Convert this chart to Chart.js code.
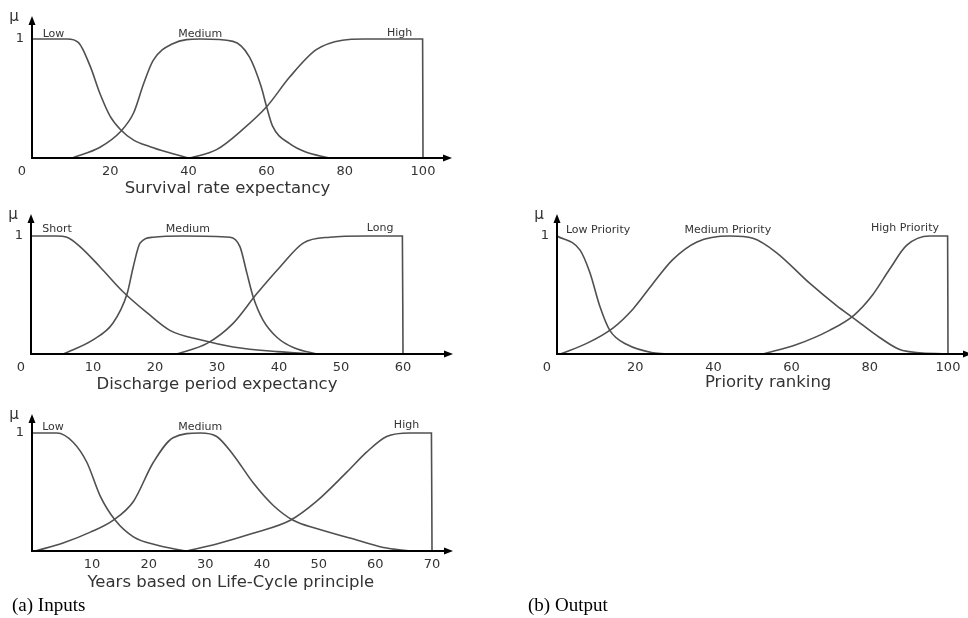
<!DOCTYPE html>
<html>
<head>
<meta charset="utf-8">
<title>Fuzzy membership functions</title>
<script src="https://cdn.jsdelivr.net/npm/chart.js@4.4.1/dist/chart.umd.min.js"></script>
<style>
  body { margin: 0; background: #fff; width: 968px; height: 618px; position: relative; overflow: hidden; }
  canvas { position: absolute; }
  .cap { position: absolute; font-family: "Liberation Serif", "Times New Roman", serif; font-size: 19px; color: #000; white-space: nowrap; }
</style>
</head>
<body>
<canvas id="survivalChart" width="470" height="200" style="left:0;top:0"></canvas>
<canvas id="dischargeChart" width="470" height="204" style="left:0;top:196px"></canvas>
<canvas id="lifeCycleChart" width="470" height="200" style="left:0;top:396px"></canvas>
<canvas id="priorityChart" width="448" height="204" style="left:520px;top:196px"></canvas>
<div class="cap" style="left:12px;top:594px">(a) Inputs</div>
<div class="cap" style="left:528px;top:594px">(b) Output</div>
<script>
// membership functions, [x, mu] pairs

// Survival rate expectancy (0-100)
const survivalNames = ['Low', 'Medium', 'High'];
const survivalLow = [[0, 1], [9, 1], [11.9, 0.97], [14.9, 0.77], [17.4, 0.54], [20, 0.35], [22.6, 0.24], [26, 0.15], [30.2, 0.095], [34.5, 0.05], [40, 0]];
const survivalMedium = [[10.3, 0], [17.4, 0.09], [22.6, 0.22], [26, 0.38], [28.5, 0.62], [31, 0.82], [36, 0.96], [43, 1], [51.4, 0.98], [55.6, 0.85], [58.6, 0.6], [60, 0.43], [61.5, 0.27], [65.9, 0.12], [70, 0.05], [76, 0]];
const survivalHigh = [[40.4, 0], [47.2, 0.07], [53.9, 0.24], [60, 0.43], [65.9, 0.68], [72.7, 0.91], [79.4, 0.99], [85, 1], [99.9, 1], [100, 0]];
const survivalTicks = [20, 40, 60, 80, 100];

// Discharge period expectancy (0-60)
const dischargeNames = ['Short', 'Medium', 'Long'];
const dischargeShort = [[0, 1], [4, 1], [5.8, 0.99], [7.9, 0.91], [11.1, 0.74], [14.8, 0.53], [18.7, 0.35], [22.4, 0.2], [27.3, 0.12], [32.6, 0.06], [39.7, 0.02], [45.8, 0]];
const dischargeMedium = [[5.2, 0], [10, 0.12], [13.2, 0.26], [15.5, 0.51], [16.5, 0.74], [17.6, 0.94], [19.7, 0.99], [24.6, 1], [32.1, 0.99], [33.7, 0.91], [34.8, 0.69], [35.8, 0.49], [37.4, 0.29], [39.7, 0.14], [42.5, 0.05], [46.1, 0]];
const dischargeLong = [[23.5, 0], [28.4, 0.09], [32.6, 0.26], [36.4, 0.51], [40.2, 0.74], [43.9, 0.94], [48.2, 0.99], [54, 1], [59.9, 1], [60, 0]];
const dischargeTicks = [10, 20, 30, 40, 50, 60];

// Years based on Life-Cycle principle (0-70)
const lifeNames = ['Low', 'Medium', 'High'];
const lifeLow = [[-0.6, 1], [3.8, 1], [6.7, 0.92], [9.1, 0.75], [11.4, 0.47], [14.1, 0.26], [17.3, 0.12], [21.4, 0.05], [26.5, 0]];
const lifeMedium = [[0, 0], [5, 0.07], [9.7, 0.16], [13.7, 0.26], [17.3, 0.42], [20.8, 0.75], [24.3, 0.96], [29.1, 1], [32, 0.97], [35, 0.81], [38.4, 0.58], [41.9, 0.39], [45.5, 0.26], [49.6, 0.19], [55.5, 0.11], [61.4, 0.03], [66.1, 0]];
const lifeHigh = [[26.7, 0], [32, 0.06], [38.4, 0.15], [45, 0.26], [49.6, 0.42], [55, 0.67], [58.5, 0.84], [62, 0.97], [66.1, 1], [69.9, 1], [70, 0]];
const lifeTicks = [10, 20, 30, 40, 50, 60, 70];

// Priority ranking (0-100)
const priorityNames = ['Low Priority', 'Medium Priority', 'High Priority'];
const priorityLow = [[0, 1], [5.9, 0.88], [8.4, 0.69], [11, 0.4], [13.5, 0.2], [17.9, 0.08], [24.6, 0.01], [28.9, 0]];
const priorityMedium = [[0.8, 0], [7.6, 0.09], [14.3, 0.22], [19.4, 0.38], [24.6, 0.6], [29.6, 0.8], [35.8, 0.95], [44.2, 1], [50.1, 0.98], [56.1, 0.86], [64.6, 0.6], [71.5, 0.41], [76, 0.3], [82.5, 0.14], [88.4, 0.03], [100, 0]];
const priorityHigh = [[52.6, 0], [61.3, 0.08], [69.7, 0.2], [76, 0.33], [80.7, 0.5], [85.1, 0.72], [89.4, 0.92], [95.3, 1], [99.9, 1], [100, 0]];
const priorityTicks = [20, 40, 60, 80, 100];

const FONT = '"DejaVu Sans", Verdana, sans-serif';
const TEXT = '#333';

// arrows on both axes, the mu sign, origin 0, set names and axis title
const fuzzyAxes = {
    id: 'fuzzyAxes',
    afterDraw(chart, args, o) {
        const { ctx, chartArea, scales: { x, y } } = chart;
        const ox = chartArea.left;
        const oy = y.getPixelForValue(0);
        const endX = chartArea.right + o.extendX;
        const topY = chartArea.top - o.extendY;
        ctx.save();
        ctx.strokeStyle = '#000';
        ctx.fillStyle = '#000';
        ctx.lineWidth = 2;
        ctx.beginPath();
        ctx.moveTo(ox, oy);
        ctx.lineTo(endX - 6, oy);
        ctx.moveTo(ox, oy + 1);
        ctx.lineTo(ox, topY + 6);
        ctx.stroke();
        ctx.beginPath();
        ctx.moveTo(endX, oy);
        ctx.lineTo(endX - 9, oy - 3.5);
        ctx.lineTo(endX - 9, oy + 3.5);
        ctx.closePath();
        ctx.fill();
        ctx.beginPath();
        ctx.moveTo(ox, topY);
        ctx.lineTo(ox - 3.5, topY + 9);
        ctx.lineTo(ox + 3.5, topY + 9);
        ctx.closePath();
        ctx.fill();

        ctx.fillStyle = TEXT;
        ctx.textAlign = 'center';
        ctx.textBaseline = 'middle';
        ctx.font = '15px ' + FONT;
        ctx.fillText('\u03bc', ox - 18, topY + 1);
        if (o.origin) {
            ctx.font = '13px ' + FONT;
            ctx.fillText('0', ox - 10, oy + 14);
        }
        ctx.font = '16.5px ' + FONT;
        ctx.fillText(o.title, x.getPixelForValue(o.titleAt), oy + o.titleGap);

        ctx.font = '11px ' + FONT;
        ctx.textBaseline = 'alphabetic';
        o.names.forEach((name, i) => {
            const [lx, ly] = o.namePos[i];
            ctx.fillText(name, x.getPixelForValue(lx), y.getPixelForValue(ly));
        });
        ctx.restore();
    }
};

function curve(points) {
    return {
        data: points.map(([x, y]) => ({ x, y })),
        borderColor: '#505050',
        borderWidth: 1.6,
        pointRadius: 0,
        fill: false,
        clip: false,
        cubicInterpolationMode: 'monotone'
    };
}

function fuzzyChart(id, sets, xMin, xMax, ticks, axisWidth, padding, axes) {
    return new Chart(document.getElementById(id), {
        type: 'line',
        data: { datasets: sets.map(curve) },
        options: {
            responsive: false,
            animation: false,
            layout: { padding: padding },
            plugins: { legend: { display: false }, tooltip: { enabled: false }, fuzzyAxes: axes },
            scales: {
                x: {
                    type: 'linear',
                    min: xMin,
                    max: xMax,
                    grid: { display: false, drawTicks: false },
                    border: { display: false },
                    afterBuildTicks: s => { s.ticks = ticks.map(v => ({ value: v })); },
                    afterFit: s => { s.height = 20; },
                    ticks: { padding: 6, color: TEXT, font: { family: FONT, size: 13 }, maxRotation: 0, autoSkip: false }
                },
                y: {
                    min: 0,
                    max: 1,
                    grid: { display: false, drawTicks: false },
                    border: { display: false },
                    afterBuildTicks: s => { s.ticks = [{ value: 1 }]; },
                    afterFit: s => { s.width = axisWidth; },
                    ticks: { padding: 8, color: TEXT, font: { family: FONT, size: 13 } }
                }
            }
        },
        plugins: [fuzzyAxes]
    });
}

fuzzyChart('survivalChart', [survivalLow, survivalMedium, survivalHigh], 0, 100, survivalTicks, 32,
    { top: 39, right: 47, bottom: 22, left: 0 },
    { extendX: 29, extendY: 23, origin: true, title: 'Survival rate expectancy', titleAt: 50, titleGap: 31,
      names: survivalNames, namePos: [[5.5, 1.017], [43, 1.017], [94, 1.025]] });

fuzzyChart('dischargeChart', [dischargeShort, dischargeMedium, dischargeLong], 0, 60, dischargeTicks, 31,
    { top: 40, right: 67, bottom: 26, left: 0 },
    { extendX: 50, extendY: 22, origin: true, title: 'Discharge period expectancy', titleAt: 30, titleGap: 31,
      names: dischargeNames, namePos: [[4.2, 1.034], [25.3, 1.034], [56.3, 1.045]] });

fuzzyChart('lifeCycleChart', [lifeLow, lifeMedium, lifeHigh], -0.6, 70, lifeTicks, 32,
    { top: 37, right: 38, bottom: 25, left: 0 },
    { extendX: 21, extendY: 19, origin: false, title: 'Years based on Life-Cycle principle', titleAt: 34.5, titleGap: 32,
      names: lifeNames, namePos: [[3.1, 1.028], [29.1, 1.028], [65.5, 1.045]] });

fuzzyChart('priorityChart', [priorityLow, priorityMedium, priorityHigh], 0, 100, priorityTicks, 37,
    { top: 40, right: 20, bottom: 26, left: 0 },
    { extendX: 24, extendY: 22, origin: true, title: 'Priority ranking', titleAt: 54, titleGap: 29,
      names: priorityNames, namePos: [[10.5, 1.028], [43.7, 1.028], [89, 1.045]] });
</script>
</body>
</html>
